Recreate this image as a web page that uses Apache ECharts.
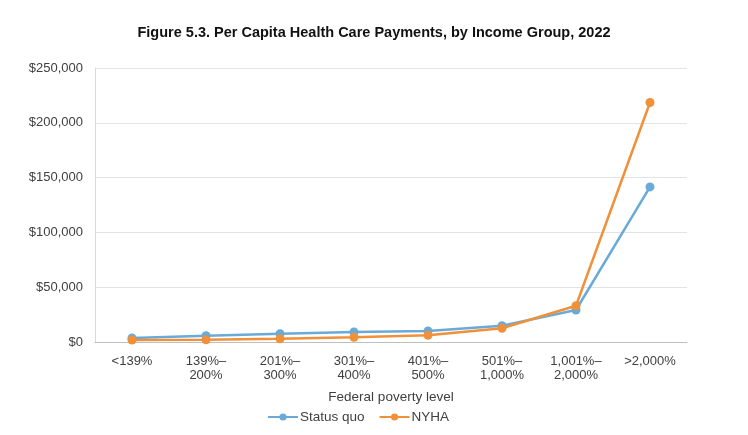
<!DOCTYPE html>
<html>
<head>
<meta charset="utf-8">
<script src="https://cdn.jsdelivr.net/npm/echarts@6/dist/echarts.min.js"></script>
<style>html,body{margin:0;padding:0;background:#fff;}#c{width:748px;height:435px;}</style>
</head>
<body>
<div id="c"></div>
<script>
var categories = ['<139%', '139%–\n200%', '201%–\n300%', '301%–\n400%', '401%–\n500%', '501%–\n1,000%', '1,001%–\n2,000%', '>2,000%'];
var statusQuo = [3600, 5800, 7600, 9100, 10000, 14900, 29200, 141500];
var nyha = [1800, 2000, 3000, 4300, 6100, 12500, 33100, 218500];
var yTicks = [0, 50000, 100000, 150000, 200000, 250000];

var chart = echarts.init(document.getElementById('c'));
chart.setOption({
  backgroundColor: '#fff',
  animation: false,
  title: {
    text: 'Figure 5.3. Per Capita Health Care Payments, by Income Group, 2022',
    left: 'center', top: 20,
    textStyle: { fontFamily: 'Liberation Sans', fontSize: 14.5, fontWeight: 'bold', color: '#111' }
  },
  grid: { left: 95, right: 61, top: 68, bottom: 93 },
  legend: {
    bottom: 6, left: 262,
    itemWidth: 30, itemHeight: 9, itemGap: 14,
    textStyle: { fontFamily: 'Liberation Sans', fontSize: 13.5, color: '#404040', padding: [0, 0, 0, -3] },
    data: ['Status quo', 'NYHA']
  },
  xAxis: {
    type: 'category', data: categories, boundaryGap: true,
    name: 'Federal poverty level', nameLocation: 'middle', nameGap: 48,
    nameTextStyle: { fontFamily: 'Liberation Sans', fontSize: 13.5, color: '#404040' },
    axisLine: { lineStyle: { color: '#bfbfbf', width: 1 } },
    axisTick: { show: false },
    axisLabel: { fontFamily: 'Liberation Sans', fontSize: 13, color: '#404040', margin: 12, lineHeight: 14, interval: 0 }
  },
  yAxis: {
    type: 'value', min: 0, max: 250000, interval: 50000,
    axisLine: { show: true, lineStyle: { color: '#d9d9d9' } },
    axisTick: { show: false },
    splitLine: { lineStyle: { color: '#e3e3e3' } },
    axisLabel: {
      fontFamily: 'Liberation Sans', fontSize: 13, color: '#404040', margin: 12,
      formatter: function (v) { return yTicks.indexOf(v) >= 0 ? '$' + v.toLocaleString('en-US') : ''; }
    }
  },
  series: [
    { name: 'Status quo', type: 'line', data: statusQuo, symbol: 'circle', symbolSize: 9,
      itemStyle: { color: '#6aaad8' }, lineStyle: { color: '#6aaad8', width: 2.5 } },
    { name: 'NYHA', type: 'line', data: nyha, symbol: 'circle', symbolSize: 9,
      itemStyle: { color: '#f0913a' }, lineStyle: { color: '#f0913a', width: 2.5 } }
  ]
});
</script>
</body>
</html>
